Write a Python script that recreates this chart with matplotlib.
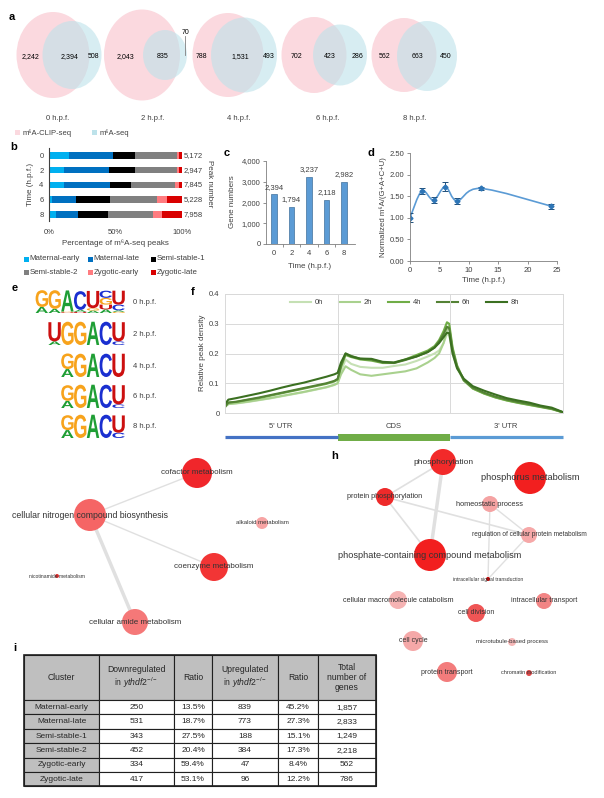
"""Multi-panel m6A figure: venns, stacked bars, metagene, GO networks, table."""

import numpy as np
from matplotlib import pyplot as plt
from matplotlib.patches import Ellipse, Rectangle, Circle, PathPatch
from matplotlib.path import Path
from matplotlib.textpath import TextPath
from matplotlib.font_manager import FontProperties
from matplotlib.transforms import Affine2D

plt.switch_backend("Agg")

W, H = 604, 798
plt.rcParams["font.family"] = ["Liberation Sans", "DejaVu Sans"]
plt.rcParams["mathtext.fontset"] = "custom"
plt.rcParams["mathtext.rm"] = "Liberation Sans"
plt.rcParams["mathtext.it"] = "Liberation Sans:italic"
TXT = "#404040"

# ---- data -------------------------------------------------------------
# a: venn counts
venn_times = ["0 h.p.f.", "2 h.p.f.", "4 h.p.f.", "6 h.p.f.", "8 h.p.f."]
venn_clip_only = [2242, 2043, 788, 702, 562]
venn_both = [2394, 835, 1531, 423, 663]
venn_seq_only = [508, 70, 493, 286, 450]

# b: percentage of peaks per cluster at each time point
b_times = [0, 2, 4, 6, 8]
clusters = ["Maternal-early", "Maternal-late", "Semi-stable-1",
            "Semi-stable-2", "Zygotic-early", "Zygotic-late"]
maternal_early = [15, 11, 11, 2, 5]
maternal_late = [33, 34, 35, 18, 17]
semi_stable_1 = [17, 19.5, 16, 25.5, 22.5]
semi_stable_2 = [31, 31.5, 32.5, 36, 33.5]
zygotic_early = [1.5, 1.5, 3, 7.5, 7]
zygotic_late = [2.5, 2.5, 2.5, 11, 15]
peak_numbers = [5172, 2947, 7845, 5228, 7958]

# c: gene numbers
gene_numbers = [2394, 1794, 3237, 2118, 2982]

# d: normalized m6A
d_time = [0, 2, 4, 6, 8, 12, 24]
d_mean = [1.00, 1.62, 1.41, 1.72, 1.39, 1.68, 1.27]
d_err = [0.10, 0.07, 0.06, 0.10, 0.06, 0.03, 0.06]

# e: motif logos (letter, relative height) bottom -> top per column
logo_labels = ["0 h.p.f.", "2 h.p.f.", "4 h.p.f.", "6 h.p.f.", "8 h.p.f."]
logo_0h = [[("A", 0.25), ("G", 0.70)], [("A", 0.17), ("G", 0.78)],
           [("U", 0.03), ("G", 0.03), ("A", 0.88)], [("U", 0.05), ("A", 0.08), ("C", 0.78)],
           [("A", 0.10), ("G", 0.10), ("U", 0.72)],
           [("A", 0.15), ("U", 0.20), ("G", 0.28), ("C", 0.30)],
           [("G", 0.05), ("A", 0.06), ("C", 0.24), ("U", 0.58)]]
logo_2h = [[("A", 0.15), ("U", 0.80)], [("G", 0.97)], [("G", 0.97)], [("A", 0.97)],
           [("C", 0.97)], [("C", 0.15), ("U", 0.80)]]
logo_4h = [[("A", 0.33), ("G", 0.65)], [("G", 0.97)], [("A", 0.97)], [("C", 0.97)], [("U", 0.97)]]
logo_6h = [[("A", 0.30), ("G", 0.65)], [("G", 0.97)], [("A", 0.97)], [("C", 0.97)],
           [("C", 0.15), ("U", 0.80)]]
logo_8h = [[("A", 0.33), ("G", 0.62)], [("G", 0.97)], [("A", 0.97)], [("C", 0.97)],
           [("C", 0.22), ("U", 0.72)]]

# f: metagene profiles (x: 0-1 5'UTR, 1-2 CDS, 2-3 3'UTR)
f_x = [0.0, 0.03, 0.1, 0.2, 0.3, 0.4, 0.5, 0.6, 0.7, 0.8, 0.9, 0.97, 1.0, 1.03, 1.07, 1.12,
       1.2, 1.3, 1.4, 1.5, 1.6, 1.7, 1.8, 1.86, 1.9, 1.94, 1.97, 1.99, 2.02, 2.06, 2.12,
       2.2, 2.3, 2.4, 2.5, 2.6, 2.7, 2.8, 2.9, 3.0]
f_0h = [0.020, 0.030, 0.032, 0.037, 0.043, 0.049, 0.056, 0.063, 0.070, 0.078, 0.086, 0.094,
        0.100, 0.140, 0.180, 0.165, 0.155, 0.152, 0.152, 0.158, 0.163, 0.175, 0.190, 0.200,
        0.210, 0.235, 0.265, 0.262, 0.200, 0.150, 0.108, 0.082, 0.066, 0.053, 0.043, 0.035,
        0.028, 0.021, 0.014, 0.002]
f_2h = [0.022, 0.030, 0.033, 0.038, 0.044, 0.050, 0.057, 0.064, 0.071, 0.079, 0.087, 0.095,
        0.100, 0.130, 0.157, 0.145, 0.130, 0.125, 0.130, 0.135, 0.140, 0.150, 0.170, 0.185,
        0.200, 0.235, 0.280, 0.290, 0.215, 0.155, 0.110, 0.083, 0.066, 0.053, 0.043, 0.035,
        0.028, 0.021, 0.014, 0.002]
f_4h = [0.025, 0.035, 0.037, 0.044, 0.050, 0.058, 0.066, 0.074, 0.082, 0.090, 0.098, 0.106,
        0.112, 0.155, 0.195, 0.188, 0.180, 0.176, 0.168, 0.168, 0.180, 0.195, 0.210, 0.225,
        0.245, 0.275, 0.305, 0.300, 0.220, 0.160, 0.110, 0.082, 0.065, 0.052, 0.042, 0.034,
        0.027, 0.020, 0.013, 0.002]
f_6h = [0.020, 0.035, 0.038, 0.045, 0.052, 0.060, 0.068, 0.076, 0.084, 0.092, 0.100, 0.108,
        0.115, 0.160, 0.200, 0.192, 0.182, 0.180, 0.170, 0.168, 0.178, 0.190, 0.205, 0.220,
        0.240, 0.265, 0.290, 0.285, 0.210, 0.155, 0.110, 0.085, 0.068, 0.055, 0.045, 0.037,
        0.030, 0.022, 0.015, 0.002]
f_8h = [0.030, 0.045, 0.050, 0.058, 0.066, 0.075, 0.085, 0.094, 0.102, 0.112, 0.122, 0.130,
        0.135, 0.170, 0.200, 0.190, 0.183, 0.182, 0.172, 0.170, 0.180, 0.190, 0.205, 0.220,
        0.235, 0.255, 0.270, 0.268, 0.200, 0.150, 0.115, 0.090, 0.075, 0.062, 0.050, 0.042,
        0.035, 0.025, 0.018, 0.003]
f_labels = ["0h", "2h", "4h", "6h", "8h"]

# g / h: GO networks (name, x, y, radius, colour, label size)
g_nodes = [
    ("cofactor metabolism", 197, 473, 15, "#f0262b", 5.8),
    ("cellular nitrogen compound biosynthesis", 90, 515, 16, "#f56565", 6.3),
    ("alkaloid metabolism", 262, 523, 6, "#f7a4a4", 4.3),
    ("coenzyme metabolism", 214, 567, 14, "#f23535", 5.8),
    ("nicotinamide metabolism", 57, 576, 2, "#e03030", 3.6),
    ("cellular amide metabolism", 135, 622, 13, "#f57878", 5.8),
]
g_edges = [(1, 0, 1.0), (1, 3, 1.0), (1, 5, 2.5)]
h_nodes = [
    ("phosphorylation", 443, 462, 13, "#f22a2a", 6.0),
    ("phosphorus metabolism", 530, 478, 16, "#f21f1f", 6.7),
    ("protein phosphorylation", 385, 497, 9, "#ee2a2a", 5.2),
    ("homeostatic process", 490, 504, 8, "#f5a3a3", 5.3),
    ("regulation of cellular protein metabolism", 529, 535, 8, "#f6a8a8", 4.7),
    ("phosphate-containing compound metabolism", 430, 555, 16, "#f21f1f", 6.6),
    ("intracellular signal transduction", 488, 579, 2, "#cc0000", 3.6),
    ("cellular macromolecule catabolism", 398, 600, 9, "#f6b3b3", 5.2),
    ("intracellular transport", 544, 601, 8, "#f28585", 5.0),
    ("cell division", 476, 613, 9, "#ef5555", 5.0),
    ("cell cycle", 413, 641, 10, "#f5a8a8", 5.0),
    ("microtubule-based process", 512, 642, 4, "#f6b8b8", 4.3),
    ("protein transport", 447, 672, 10, "#f37c7c", 5.0),
    ("chromatin modification", 529, 673, 3, "#e04848", 4.0),
]
h_edges = [(0, 2, 1.2), (0, 5, 2.5), (2, 5, 1.2), (2, 4, 1.2), (3, 4, 1.0), (3, 6, 1.0), (4, 6, 1.0)]

# i: table
tbl_down = [250, 531, 343, 452, 334, 417]
tbl_down_ratio = [13.5, 18.7, 27.5, 20.4, 59.4, 53.1]
tbl_up = [839, 773, 188, 384, 47, 96]
tbl_up_ratio = [45.2, 27.3, 15.1, 17.3, 8.4, 12.2]
tbl_total = [1857, 2833, 1249, 2218, 562, 786]

# ---- figure ------------------------------------------------------------
fig = plt.figure(figsize=(W / 100, H / 100), dpi=100)


def px_axes(l, t, r, b):
    ax = fig.add_axes([l / W, 1 - b / H, (r - l) / W, (b - t) / H])
    ax.set_facecolor("none")
    return ax


ov = fig.add_axes([0, 0, 1, 1])
ov.set_xlim(0, W)
ov.set_ylim(H, 0)
ov.axis("off")

for lbl, (x, y) in zip("abcdefhi", [(12, 17), (14, 147), (227, 153), (371, 153),
                                     (15, 288), (193, 292), (335, 456), (15, 648)]):
    ov.text(x, y, lbl, fontsize=8, fontweight="bold", ha="center", va="center")

# ---- a: venns
venn_pink = [(53, 55, 73, 86), (142, 55, 76, 91), (228, 55, 71, 84), (314, 55, 65, 76), (404, 55, 65, 74)]
venn_blue = [(72, 55, 59, 68), (165, 55, 44, 50), (244, 55, 66, 75), (340, 55, 54, 61), (427, 56, 60, 70)]
clip_x = [31, 125, 201, 297, 385]
both_x = [70, 163, 240, 330, 417]
seq_x = [94, 186, 269, 357, 446]
time_x = [58, 153, 239, 328, 415]
PINK, BLUE = "#fbd9df", "#bde2ea"
for i in range(5):
    px, py, pw, ph = venn_pink[i]
    bx, by, bw, bh = venn_blue[i]
    ov.add_patch(Ellipse((px, py), pw, ph, color=PINK, lw=0))
    ov.add_patch(Ellipse((bx, by), bw, bh, color=BLUE, alpha=0.6, lw=0))
    ov.text(clip_x[i], 57, f"{venn_clip_only[i]:,}", fontsize=5, ha="center", va="center")
    ov.text(both_x[i], 57, f"{venn_both[i]:,}", fontsize=5, ha="center", va="center")
    if i == 1:
        ov.plot([185, 185], [36, 55], color="#808080", lw=0.6)
        ov.text(186, 32, f"{venn_seq_only[i]:,}", fontsize=5, ha="center", va="center")
    else:
        ov.text(seq_x[i], 57, f"{venn_seq_only[i]:,}", fontsize=5, ha="center", va="center")
    ov.text(time_x[i], 118, venn_times[i], fontsize=5.5, ha="center", va="center", color=TXT)
ov.add_patch(Rectangle((15, 130), 5, 5, color=PINK, lw=0))
ov.text(23, 133, "m⁶A-CLIP-seq", fontsize=5.5, va="center", color=TXT)
ov.add_patch(Rectangle((92, 130), 5, 5, color=BLUE, lw=0))
ov.text(100, 133, "m⁶A-seq", fontsize=5.5, va="center", color=TXT)

# ---- b: stacked bars
b_colors = ["#00b0f0", "#0070c0", "#000000", "#808080", "#ff7c80", "#d90000"]
b_series = [maternal_early, maternal_late, semi_stable_1, semi_stable_2, zygotic_early, zygotic_late]
axb = px_axes(49, 148, 182, 221)
left = np.zeros(len(b_times))
for vals, col in zip(b_series, b_colors):
    axb.barh(b_times, vals, left=left, height=0.88, color=col, lw=0)
    left += np.array(vals)
axb.set_xlim(0, 100)
axb.set_ylim(8.9, -1.0)
for s in ["top", "right", "bottom"]:
    axb.spines[s].set_visible(False)
axb.spines["left"].set_color("#404040")
axb.spines["left"].set_linewidth(0.8)
axb.set_xticks([0, 50, 100], ["0%", "50%", "100%"])
axb.set_yticks(b_times, [str(t) for t in b_times])
axb.tick_params(length=0, labelsize=5.5, labelcolor=TXT, pad=4)
axb.tick_params(axis="x", pad=6)
for t, n in zip(b_times, peak_numbers):
    axb.text(101, t, f"{n:,}", fontsize=5.5, va="center", ha="left", color=TXT)
ov.text(30, 184, "Time (h.p.f.)", rotation=90, fontsize=5.8, ha="center", va="center", color=TXT)
ov.text(209, 184, "Peak number", rotation=270, fontsize=5.8, ha="center", va="center", color=TXT)
ov.text(115, 243, "Percentage of m⁶A-seq peaks", fontsize=5.8, ha="center", va="center", color=TXT)
leg_x = [26, 90, 153]
for k, (name, col) in enumerate(zip(clusters, b_colors)):
    lx, ly = leg_x[k % 3], [259, 272][k // 3]
    ov.add_patch(Rectangle((lx - 2.5, ly - 2.5), 5, 5, color=col, lw=0))
    ov.text(lx + 3.5, ly, name, fontsize=5.7, va="center", color=TXT)

# ---- c: gene numbers
axc = px_axes(266, 161, 355, 244)
axc.bar(b_times, gene_numbers, width=0.65, color="#5b9bd5", edgecolor="#41719c", lw=0.5)
for t, n in zip(b_times, gene_numbers):
    axc.text(t, n + 180, f"{n:,}", fontsize=5.5, ha="center", va="bottom", color=TXT)
axc.set_xlim(-0.9, 9.25)
axc.set_ylim(0, 4000)
axc.set_yticks([0, 1000, 2000, 3000, 4000], ["0", "1,000", "2,000", "3,000", "4,000"])
axc.set_xticks(b_times, [str(t) for t in b_times])
axc.set_xticks([1, 3, 5, 7], minor=True)
axc.tick_params(which="both", labelsize=5.5, labelcolor=TXT, color="#7f7f7f", width=0.6)
axc.tick_params(axis="x", which="major", length=0, pad=4)
axc.tick_params(axis="x", which="minor", length=2)
axc.tick_params(axis="y", length=2, pad=2)
for s in ["top", "right"]:
    axc.spines[s].set_visible(False)
for s in ["left", "bottom"]:
    axc.spines[s].set_color("#7f7f7f")
    axc.spines[s].set_linewidth(0.6)
ov.text(232, 202, "Gene numbers", rotation=90, fontsize=5.8, ha="center", va="center", color=TXT)
ov.text(310, 267, "Time (h.p.f.)", fontsize=5.8, ha="center", va="center", color=TXT)

# ---- d: normalized m6A
axd = px_axes(410, 153, 557, 261)


def smooth_path(xs, ys):
    pts = np.column_stack([xs, ys]).astype(float)
    verts, codes = [pts[0]], [Path.MOVETO]
    n = len(pts)
    for i in range(n - 1):
        p0, p1, p2, p3 = pts[max(i - 1, 0)], pts[i], pts[i + 1], pts[min(i + 2, n - 1)]
        verts += [p1 + (p2 - p0) / 6, p2 - (p3 - p1) / 6, p2]
        codes += [Path.CURVE4] * 3
    return Path(verts, codes)


axd.add_patch(PathPatch(smooth_path(d_time, d_mean), fill=False, edgecolor="#5b9bd5", lw=1.2))
axd.errorbar(d_time, d_mean, yerr=d_err, fmt="D", ms=2.5, color="#2e75b6", ecolor="#1f4e79",
             elinewidth=0.7, capsize=2, capthick=0.7)
axd.set_xlim(0, 25)
axd.set_ylim(0, 2.5)
axd.set_xticks([0, 5, 10, 15, 20, 25])
axd.set_yticks([0, 0.5, 1.0, 1.5, 2.0, 2.5], ["0.00", "0.50", "1.00", "1.50", "2.00", "2.50"])
axd.tick_params(labelsize=5.5, labelcolor=TXT, color="#7f7f7f", width=0.6, length=2, pad=2)
for s in ["top", "right"]:
    axd.spines[s].set_visible(False)
for s in ["left", "bottom"]:
    axd.spines[s].set_color("#7f7f7f")
    axd.spines[s].set_linewidth(0.6)
ov.text(383, 207, "Normalized m⁶A/(G+A+C+U)", rotation=90, fontsize=5.6, ha="center",
        va="center", color=TXT)
ov.text(484, 281, "Time (h.p.f.)", fontsize=5.8, ha="center", va="center", color=TXT)

# ---- e: motif logos
LOGO_COLORS = {"A": "#1f9e35", "C": "#1a2fd0", "G": "#f7a31c", "U": "#cc1010"}
logo_fp = FontProperties(family="Liberation Sans", weight="bold")
row_bottom = [313, 345, 377, 408, 438]
ROW_H, COL_W, RIGHT = 24, 12.8, 125
for logo, yb, lbl in zip([logo_0h, logo_2h, logo_4h, logo_6h, logo_8h], row_bottom, logo_labels):
    x0 = RIGHT - COL_W * len(logo)
    for ci, col in enumerate(logo):
        y = yb
        for ch, frac in col:
            h = frac * ROW_H
            tp = TextPath((0, 0), ch, size=1, prop=logo_fp)
            bb = tp.get_extents()
            tr = (Affine2D().translate(-bb.x0, -bb.y0)
                  .scale((COL_W - 0.4) / bb.width, -h / bb.height)
                  .translate(x0 + ci * COL_W + 0.2, y))
            ov.add_patch(PathPatch(tr.transform_path(tp), color=LOGO_COLORS[ch], lw=0))
            y -= h
    ov.text(133, yb - 11, lbl, fontsize=5.5, va="center", color=TXT)

# ---- f: metagene
f_colors = ["#c5e0b4", "#a9d18e", "#70ad47", "#548235", "#3b7021"]
axf = px_axes(225, 294, 563, 413)
for ys, col in zip([f_0h, f_2h, f_4h, f_6h, f_8h], f_colors):
    axf.plot(f_x, ys, color=col, lw=1.5)
axf.set_xlim(0, 3)
axf.set_ylim(0, 0.4)
axf.set_xticks([1, 2], ["", ""])
axf.set_yticks([0, 0.1, 0.2, 0.3, 0.4], ["0", "0.1", "0.2", "0.3", "0.4"])
axf.grid(color="#d9d9d9", lw=0.7)
axf.set_axisbelow(True)
axf.tick_params(length=0, labelsize=5.5, labelcolor=TXT, pad=4)
for s in axf.spines.values():
    s.set_color("#d9d9d9")
    s.set_linewidth(0.7)
for k, (name, col) in enumerate(zip(f_labels, f_colors)):
    lx = 290 + 49 * k
    ov.plot([lx, lx + 21], [302, 302], color=col, lw=1.5)
    ov.text(lx + 25, 302, name, fontsize=5.5, va="center", color=TXT)
ov.text(202, 353, "Relative peak density", rotation=90, fontsize=5.8, ha="center",
        va="center", color=TXT)
ov.plot([225, 338], [437, 437], color="#4472c4", lw=2.3, solid_capstyle="butt")
ov.add_patch(Rectangle((338, 434), 112, 6.5, color="#70ad47", lw=0))
ov.plot([450, 563], [437, 437], color="#5b9bd5", lw=2.3, solid_capstyle="butt")
for lbl, x in zip(["5' UTR", "CDS", "3' UTR"], [281, 394, 506]):
    ov.text(x, 427, lbl, fontsize=5.5, ha="center", va="center", color=TXT)

# ---- g / h: networks
for nodes, edges in [(g_nodes, g_edges), (h_nodes, h_edges)]:
    for a, b, lw in edges:
        ov.plot([nodes[a][1], nodes[b][1]], [nodes[a][2], nodes[b][2]], color="#e0e0e0",
                lw=lw, zorder=1, solid_capstyle="round")
    for name, x, y, r, col, fs in nodes:
        ov.add_patch(Circle((x, y), r, color=col, lw=0, zorder=2))
        ov.text(x, y, name, fontsize=fs, ha="center", va="center", color="#333333", zorder=3)

# ---- i: table
col_edges = [24, 99, 174, 212, 278, 318, 376]
TOP, HEAD_B, ROW = 655, 700, 14.4
headers = ["Cluster", "Downregulated\nin $\\it{ythdf2}^{-/-}$", "Ratio",
           "Upregulated\nin $\\it{ythdf2}^{-/-}$", "Ratio", "Total\nnumber of\ngenes"]
rows = [[c, f"{d}", f"{dr:.1f}%", f"{u}", f"{ur:.1f}%", f"{t:,}"]
        for c, d, dr, u, ur, t in zip(clusters, tbl_down, tbl_down_ratio, tbl_up, tbl_up_ratio, tbl_total)]
GRAY = "#bfbfbf"
for j in range(6):
    xl, xr = col_edges[j], col_edges[j + 1]
    ov.add_patch(Rectangle((xl, TOP), xr - xl, HEAD_B - TOP, facecolor=GRAY, edgecolor="#202020", lw=0.8))
    ov.text((xl + xr) / 2, (TOP + HEAD_B) / 2, headers[j], fontsize=6.2, ha="center",
            va="center", color="#262626", linespacing=1.15)
    for i, row in enumerate(rows):
        yt = HEAD_B + i * ROW
        ov.add_patch(Rectangle((xl, yt), xr - xl, ROW, facecolor=GRAY if j == 0 else "white",
                               edgecolor="#202020", lw=0.8))
        ov.text((xl + xr) / 2, yt + ROW / 2, row[j], fontsize=6, ha="center", va="center",
                color="#262626")
ov.add_patch(Rectangle((col_edges[0], TOP), col_edges[-1] - col_edges[0], HEAD_B - TOP + 6 * ROW,
                       fill=False, edgecolor="#202020", lw=1.2))

fig.savefig("out.png", dpi=100)
